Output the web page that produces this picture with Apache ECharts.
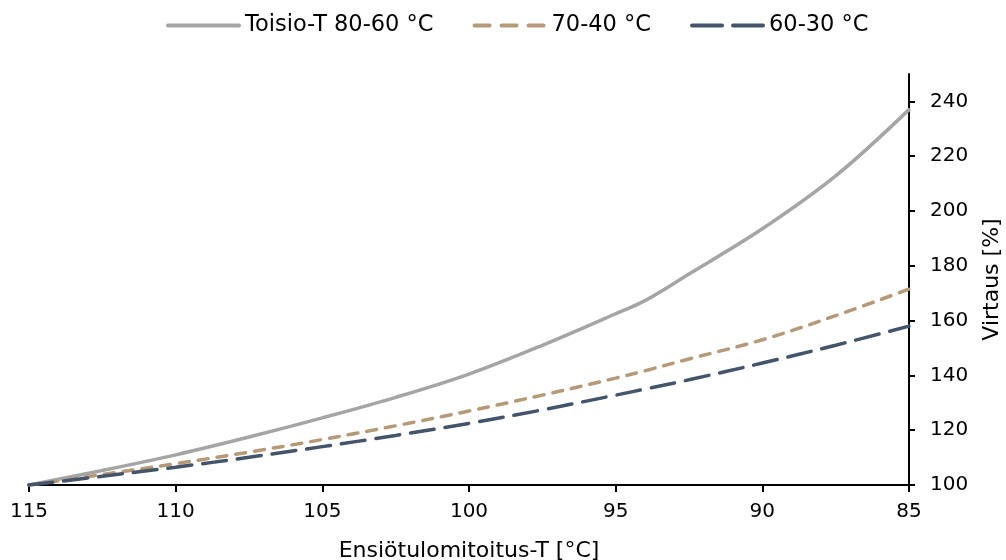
<!DOCTYPE html>
<html>
<head>
<meta charset="utf-8">
<script src="https://cdn.jsdelivr.net/npm/echarts@6/dist/echarts.min.js"></script>
<style>
  html, body { margin: 0; padding: 0; background: #ffffff; }
  #chart { width: 1006px; height: 560px; }
</style>
</head>
<body>
<div id="chart"></div>
<script>
// Supply temperature (°C) on the x axis, running from 115 down to 85
const temps = [115, 112.5, 110, 107.5, 105, 102.5, 100, 97.5, 95, 94, 92.5, 90, 87.5, 85];

// Relative flow [%] for each secondary temperature pair
const flow8060 = [100, 105.3, 111, 117.5, 124.5, 132, 140.5, 151, 162.5, 167.3, 177, 193.5, 212.8, 237];
const flow7040 = [100, 103.8, 107.8, 112, 116.6, 121.6, 127, 132.8, 139, 141.7, 146, 153, 161.8, 171.5];
const flow6030 = [100, 103.2, 106.5, 110.1, 114, 118.1, 122.5, 127.4, 132.8, 135, 138.4, 144.5, 151, 158];

const seriesNames = ['Toisio-T 80-60 °C', '70-40 °C', '60-30 °C'];
const xTicks = [115, 110, 105, 100, 95, 90, 85];
const yTicks = [100, 120, 140, 160, 180, 200, 220, 240];

const font = 'DejaVu Sans, Verdana, sans-serif';
const pairs = (vals) => temps.map((t, i) => [t, vals[i]]);

const chart = echarts.init(document.getElementById('chart'), null, { renderer: 'canvas' });

chart.setOption({
  animation: false,
  backgroundColor: '#ffffff',
  textStyle: { fontFamily: font, color: '#000' },
  legend: {
    top: 14,
    left: 166,
    padding: 0,
    itemWidth: 71,
    itemHeight: 16,
    itemGap: 39,
    itemStyle: { color: 'transparent', borderColor: 'transparent', borderWidth: 0 },
    lineStyle: { width: 4 },
    textStyle: { fontFamily: font, fontSize: 22.5, color: '#000', padding: [0, 0, 0, 1] },
    data: [
      { name: seriesNames[0] },
      { name: seriesNames[1], lineStyle: { type: [15, 12], width: 4 } },
      { name: seriesNames[2], lineStyle: { type: [30, 11], width: 4 } }
    ]
  },
  grid: { left: 29, right: 97, top: 74, bottom: 75, containLabel: false, outerBoundsMode: 'none' },
  xAxis: {
    type: 'value',
    inverse: true,
    min: 85,
    max: 115,
    interval: 5,
    name: 'Ensiötulomitoitus-T [°C]',
    nameLocation: 'middle',
    nameGap: 55,
    nameTextStyle: { fontFamily: font, fontSize: 22, color: '#000' },
    axisLine: { lineStyle: { color: '#000', width: 2 } },
    axisTick: { show: true, length: 7, lineStyle: { color: '#000', width: 2 } },
    axisLabel: { fontFamily: font, fontSize: 20, color: '#000', margin: 17, customValues: xTicks },
    splitLine: { show: false }
  },
  yAxis: {
    type: 'value',
    position: 'right',
    min: 100,
    max: 250,
    interval: 10,
    name: 'Virtaus [%]',
    nameLocation: 'middle',
    nameRotate: 90,
    nameGap: 72,
    nameTextStyle: { fontFamily: font, fontSize: 22, color: '#000' },
    axisLine: { show: true, lineStyle: { color: '#000', width: 2 } },
    axisTick: { show: true, length: 6, lineStyle: { color: '#000', width: 2 }, customValues: yTicks },
    axisLabel: { fontFamily: font, fontSize: 20, color: '#000', margin: 21, customValues: yTicks },
    splitLine: { show: false }
  },
  series: [
    {
      name: seriesNames[0],
      type: 'line',
      data: pairs(flow8060),
      symbol: 'none',
      smooth: 0.35,
      lineStyle: { color: '#a5a5a5', width: 3.5, cap: 'round' },
      itemStyle: { color: '#a5a5a5' }
    },
    {
      name: seriesNames[1],
      type: 'line',
      data: pairs(flow7040),
      symbol: 'none',
      smooth: 0.35,
      lineStyle: { color: '#b49a79', width: 3.5, type: [10, 9], cap: 'round' },
      itemStyle: { color: '#b49a79' }
    },
    {
      name: seriesNames[2],
      type: 'line',
      data: pairs(flow6030),
      symbol: 'none',
      smooth: 0.35,
      lineStyle: { color: '#44546a', width: 3.5, type: [24, 11], cap: 'round' },
      itemStyle: { color: '#44546a' }
    }
  ]
});
</script>
</body>
</html>
